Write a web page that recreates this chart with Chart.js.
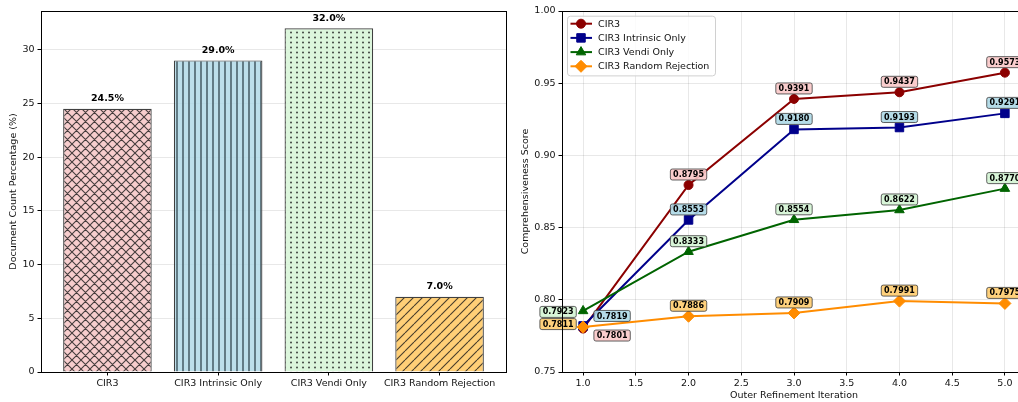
<!DOCTYPE html>
<html>
<head>
<meta charset="utf-8">
<script src="https://cdn.jsdelivr.net/npm/chart.js@4.4.0/dist/chart.umd.min.js"></script>
<style>
html,body{margin:0;padding:0;background:#fff;overflow:hidden;width:1018px;height:402px}
#left{position:absolute;left:0;top:0}
#right{position:absolute;left:510px;top:0}
</style>
</head>
<body>
<canvas id="left" width="510" height="402"></canvas>
<canvas id="right" width="530" height="402"></canvas>
<script>
// --- left panel: document share per method
const methods = ['CIR3', 'CIR3 Intrinsic Only', 'CIR3 Vendi Only', 'CIR3 Random Rejection'];
const docShare = [24.5, 29.0, 32.0, 7.0];
const shareTicks = [0, 5, 10, 15, 20, 25, 30];

// --- right panel: score per outer iteration
const iterations = [1, 2, 3, 4, 5];
const scoreCIR3 = [0.7801, 0.8795, 0.9391, 0.9437, 0.9573];
const scoreIntrinsic = [0.7819, 0.8553, 0.9180, 0.9193, 0.9291];
const scoreVendi = [0.7923, 0.8333, 0.8554, 0.8622, 0.8770];
const scoreRandom = [0.7811, 0.7886, 0.7909, 0.7991, 0.7975];
const iterTicks = [1.0, 1.5, 2.0, 2.5, 3.0, 3.5, 4.0, 4.5, 5.0];
const scoreTicks = [0.75, 0.80, 0.85, 0.90, 0.95, 1.00];

Chart.defaults.font.family = "'DejaVu Sans', sans-serif";
Chart.defaults.font.size = 9.5;
Chart.defaults.color = '#111';

const GRID = 'rgba(0,0,0,0.09)';
const HATCH = 'rgba(25,25,25,0.8)';

// hatch tiles, matplotlib-ish
function hatch(bg, kind) {
  const c = document.createElement('canvas');
  const w = kind === '|' ? 6 : kind === '.' ? 6 : 9;
  const h = kind === '.' ? 5 : w;
  c.width = w; c.height = h;
  const g = c.getContext('2d');
  g.fillStyle = bg;
  g.fillRect(0, 0, w, h);
  g.strokeStyle = HATCH;
  g.fillStyle = HATCH;
  g.lineWidth = 1.1;
  if (kind === '//' || kind === 'xx') {
    g.beginPath();
    for (const o of [-w, 0, w]) { g.moveTo(o, h); g.lineTo(o + w, 0); }
    if (kind === 'xx') for (const o of [-w, 0, w]) { g.moveTo(o, 0); g.lineTo(o + w, h); }
    g.stroke();
  } else if (kind === '|') {
    g.strokeStyle = 'rgba(55,75,85,0.85)';
    g.lineWidth = 1.6;
    g.beginPath(); g.moveTo(3, 0); g.lineTo(3, h); g.stroke();
  } else {
    g.beginPath(); g.arc(3, 2.5, 1, 0, Math.PI * 2); g.fill();
  }
  return g.createPattern(c, 'repeat');
}

const barFills = [
  hatch('rgba(246,200,200,0.9)', 'xx'),
  hatch('rgba(173,216,230,0.82)', '|'),
  hatch('rgba(214,245,214,0.85)', '.'),
  hatch('rgba(255,200,100,0.88)', '//')
];

const frame = {
  id: 'frame',
  afterDraw(c) {
    const a = c.chartArea, ctx = c.ctx;
    ctx.save();
    ctx.strokeStyle = '#000';
    ctx.lineWidth = 1;
    ctx.strokeRect(Math.round(a.left) + 0.5, Math.round(a.top) + 0.5,
      Math.round(a.right - a.left), Math.round(a.bottom - a.top));
    ctx.restore();
  }
};

const barValues = {
  id: 'barValues',
  afterDatasetsDraw(c) {
    const ctx = c.ctx;
    ctx.save();
    ctx.font = "bold 9.5px 'DejaVu Sans'";
    ctx.fillStyle = '#000';
    ctx.textAlign = 'center';
    ctx.textBaseline = 'middle';
    c.getDatasetMeta(0).data.forEach((el, i) => {
      ctx.fillText(docShare[i].toFixed(1) + '%', el.x, el.y - 10);
    });
    ctx.restore();
  }
};

new Chart(document.getElementById('left'), {
  type: 'bar',
  data: {
    datasets: [{
      data: docShare.map((v, i) => ({ x: i, y: v })),
      backgroundColor: barFills,
      borderColor: 'rgba(30,30,30,0.85)',
      borderWidth: 1.2,
      barPercentage: 0.8,
      categoryPercentage: 1.0
    }]
  },
  options: {
    responsive: false,
    animation: false,
    layout: { padding: { top: 11, right: 4, left: 0, bottom: 0 } },
    plugins: { legend: { display: false }, tooltip: { enabled: false } },
    scales: {
      x: {
        type: 'linear', min: -0.6, max: 3.6, offset: false,
        afterBuildTicks: s => { s.ticks = methods.map((m, i) => ({ value: i })); },
        afterFit: s => { s.height = 30; },
        ticks: { callback: v => methods[v], padding: 2, maxRotation: 0, autoSkip: false },
        grid: { offset: false, drawOnChartArea: false, tickLength: 3.5, tickColor: '#000' },
        border: { display: false }
      },
      y: {
        min: 0, max: 33.6,
        afterBuildTicks: s => { s.ticks = shareTicks.map(v => ({ value: v })); },
        afterFit: s => { s.width = 41; },
        ticks: { padding: 3, callback: v => v },
        grid: { color: GRID, tickLength: 3.5, tickColor: '#000' },
        border: { display: false },
        title: { display: true, text: 'Document Count Percentage (%)', padding: { top: 8.3, bottom: 0 } }
      }
    }
  },
  plugins: [frame, barValues]
});

// --- right panel
const series = [
  { label: 'CIR3', values: scoreCIR3, color: '#8b0000', box: 'rgba(250,200,200,0.9)', marker: 'circle', r: 4.5 },
  { label: 'CIR3 Intrinsic Only', values: scoreIntrinsic, color: '#00008b', box: 'rgba(173,216,230,0.9)', marker: 'rect', r: 6 },
  { label: 'CIR3 Vendi Only', values: scoreVendi, color: '#006400', box: 'rgba(212,244,212,0.9)', marker: 'triangle', r: 5.5 },
  { label: 'CIR3 Random Rejection', values: scoreRandom, color: '#ff8c00', box: 'rgba(255,204,110,0.9)', marker: 'rectRot', r: 6 }
];
// label nudges (px) for the crowded first iteration; others sit above the point
const firstNudge = [[29, 7], [29, -10], [-25, 1], [-25, -3]];

const valueBoxes = {
  id: 'valueBoxes',
  afterDatasetsDraw(c) {
    const ctx = c.ctx, xs = c.scales.x, ys = c.scales.y;
    ctx.save();
    ctx.font = "bold 8px 'DejaVu Sans'";
    ctx.textAlign = 'center';
    ctx.textBaseline = 'middle';
    series.forEach((s, k) => {
      s.values.forEach((v, i) => {
        const [dx, dy] = i === 0 ? firstNudge[k] : [0, -10.5];
        const x = xs.getPixelForValue(iterations[i]) + dx;
        const y = ys.getPixelForValue(v) + dy;
        const t = v.toFixed(4);
        const w = ctx.measureText(t).width + 5.5, h = 11;
        ctx.beginPath();
        ctx.roundRect(x - w / 2, y - h / 2, w, h, 2);
        ctx.fillStyle = s.box;
        ctx.fill();
        ctx.strokeStyle = 'rgba(60,60,60,0.8)';
        ctx.lineWidth = 1;
        ctx.stroke();
        ctx.fillStyle = '#000';
        ctx.fillText(t, x, y + 0.5);
      });
    });
    ctx.restore();
  }
};

const lineLegend = {
  id: 'lineLegend',
  afterDraw(c) {
    const ctx = c.ctx, a = c.chartArea;
    const x0 = a.left + 5, y0 = a.top + 4.7, w = 148, h = 59.7;
    ctx.save();
    ctx.beginPath();
    ctx.roundRect(x0 + 0.5, y0 + 0.5, w, h, 3);
    ctx.fillStyle = 'rgba(255,255,255,0.8)';
    ctx.fill();
    ctx.strokeStyle = '#d0d0d0';
    ctx.lineWidth = 1;
    ctx.stroke();
    ctx.font = "9.5px 'DejaVu Sans'";
    ctx.textBaseline = 'middle';
    series.forEach((s, i) => {
      const y = y0 + 8 + i * 14.2;
      ctx.strokeStyle = s.color;
      ctx.fillStyle = s.color;
      ctx.lineWidth = 2;
      ctx.beginPath(); ctx.moveTo(x0 + 3.5, y); ctx.lineTo(x0 + 25, y); ctx.stroke();
      ctx.lineWidth = 1;
      Chart.helpers.drawPoint(ctx, { pointStyle: s.marker, radius: s.r, rotation: 0, borderWidth: 1 }, x0 + 14, y);
      ctx.fillStyle = '#111';
      ctx.fillText(s.label, x0 + 31, y + 0.5);
    });
    ctx.restore();
  }
};

new Chart(document.getElementById('right'), {
  type: 'line',
  data: {
    datasets: series.map((s, k) => ({
      label: s.label,
      data: s.values.map((v, i) => ({ x: iterations[i], y: v })),
      borderColor: s.color,
      backgroundColor: s.color,
      pointBorderColor: s.color,
      pointBackgroundColor: s.color,
      pointStyle: s.marker,
      pointRadius: s.r,
      pointBorderWidth: 1,
      borderWidth: 2,
      tension: 0,
      order: series.length - k
    }))
  },
  options: {
    responsive: false,
    animation: false,
    layout: { padding: { top: 11, right: 14, left: 0, bottom: 0 } },
    plugins: { legend: { display: false }, tooltip: { enabled: false } },
    scales: {
      x: {
        type: 'linear', min: 0.8, max: 5.2,
        afterBuildTicks: s => { s.ticks = iterTicks.map(v => ({ value: v })); },
        afterFit: s => { s.height = 30; },
        ticks: { callback: v => v.toFixed(1), padding: 2, maxRotation: 0, autoSkip: false },
        grid: { color: GRID, tickLength: 3.5, tickColor: '#000' },
        border: { display: false },
        title: { display: true, text: 'Outer Refinement Iteration', padding: { top: 0, bottom: 0.3 } }
      },
      y: {
        min: 0.75, max: 1.0,
        afterBuildTicks: s => { s.ticks = scoreTicks.map(v => ({ value: v })); },
        afterFit: s => { s.width = 52; },
        ticks: { callback: v => v.toFixed(2), padding: 3 },
        grid: { color: GRID, tickLength: 3.5, tickColor: '#000' },
        border: { display: false },
        title: { display: true, text: 'Comprehensiveness Score', padding: { top: 9.8, bottom: 0 } }
      }
    }
  },
  plugins: [frame, valueBoxes, lineLegend]
});
</script>
</body>
</html>
